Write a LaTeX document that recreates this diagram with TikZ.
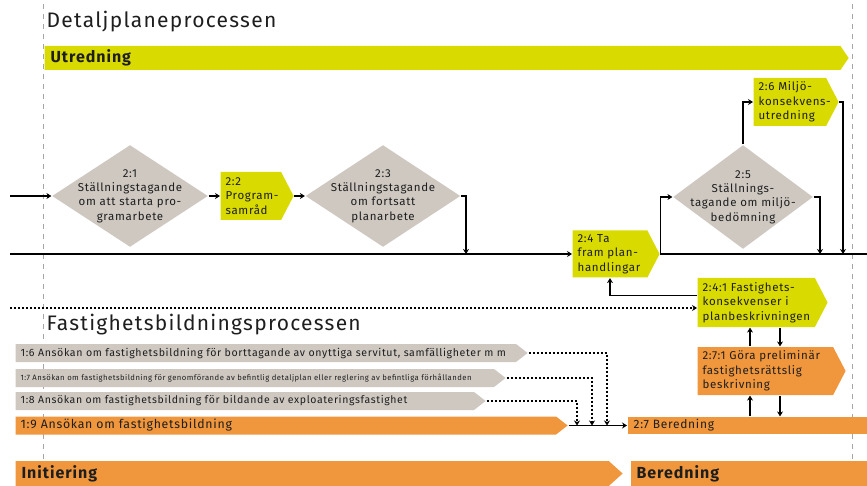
\documentclass[tikz,border=0pt]{standalone}
\usepackage{fontspec}
\setmainfont{Fira Sans}[LetterSpace=6]
\usetikzlibrary{shapes.geometric,shapes.symbols,arrows.meta}

\definecolor{utrgul}{HTML}{D8DA00}
\definecolor{fastorange}{HTML}{F0963C}
\definecolor{ansgra}{HTML}{CEC8C1}
\definecolor{ramgra}{HTML}{A5A5A5}
\definecolor{textsvart}{HTML}{1E1E1E}

\begin{document}
\begin{tikzpicture}[x=1pt, y=-1pt, >={Stealth[length=5pt,width=6pt]},
  line width=1.2pt, text=textsvart,
  decision/.style={diamond, fill=ansgra, inner sep=0pt, draw=none,
    minimum width=#1, minimum height=102pt},
  dtext/.style={label={[align=center, inner sep=0pt,
    font=\fontsize{11.5}{14.3}\selectfont]center:#1}},
  activity/.style={signal, signal to=east, signal pointer angle=125,
    inner sep=0pt, draw=none, minimum height=48pt, anchor=west},
  btext/.style={label={[anchor=west, align=left, inner sep=5pt,
    font=\fontsize{11.5}{14.5}\selectfont]west:#1}},
  bar/.style={signal, signal to=east, signal pointer angle=76,
    inner sep=0pt, draw=none, minimum height=18pt, anchor=west},
  phase/.style={signal, signal to=east, signal pointer angle=90,
    inner sep=0pt, draw=none, minimum height=25pt, anchor=west},
  heading/.style={anchor=west, inner sep=0pt, font=\fontsize{21}{24}\selectfont},
  guide/.style={draw=ramgra, line width=1pt, dash pattern=on 5pt off 5pt},
  dots/.style={dash pattern=on 2pt off 2pt}]

\useasboundingbox (0,0) rectangle (867,486);

% Ramlinjer

\coordinate (guide-l-top) at (43,4);
\coordinate (guide-l-bot) at (43,462);
\coordinate (guide-r-top) at (852,4);
\coordinate (guide-r-bot) at (852,462);
\draw [guide] (guide-l-top) -- (guide-l-bot);
\draw [guide] (guide-r-top) -- (guide-r-bot);

% Detaljplaneprocessen

\node [heading] (title-plan) at (46,22) {Detaljplaneprocessen};

\node [phase, fill=utrgul, minimum height=24pt, minimum width=804pt,
  signal pointer angle=112,
  label={[anchor=west, inner sep=6pt, font=\fontsize{16}{18}\selectfont\bfseries]west:Utredning}]
  (bar-utr) at (44,58) {};

\node [decision=156pt, dtext={2:1\\Ställningstagande\\om att starta pro-\\gramarbete}]
  (dec-1) at (130,196) {};
\node [activity, fill=utrgul, minimum width=73pt, btext={2:2\\Program-\\samråd}]
  (act-2) at (220,196) {};
\node [decision=155pt, dtext={2:3\\Ställningstagande\\om fortsatt\\planarbete}]
  (dec-3) at (383,196) {};
\node [activity, fill=utrgul, minimum width=87pt, minimum height=47pt,
  btext={2:4 Ta\\fram plan-\\handlingar}]
  (act-4) at (572,254) {};
\node [decision=140pt, minimum height=104pt,
  dtext={2:5\\Ställnings-\\tagande om miljö-\\bedömning}]
  (dec-5) at (743,197) {};
\node [activity, fill=utrgul, minimum width=85pt,
  btext={2:6 Miljö-\\konsekvens-\\utredning}]
  (act-6) at (753,102) {};

\coordinate (start-in) at (10,196);
\coordinate (start-main) at (10,254);
\coordinate (end-main) at (867,254);
\coordinate (in-3) at (466,254);
\coordinate (in-5) at (820,254);
\coordinate (in-6) at (843,254);

\draw [->] (start-in) -- (dec-1.west);
\draw [->] (dec-1.east) -- (act-2.west);
\draw [->] (act-2.east) -- (dec-3.west);
\draw [->] (dec-3.east) -| (in-3);
\draw [->] (start-main) -- (act-4.west);
\draw (act-4.east) -- (end-main);
\draw [->] (act-4.east) |- (dec-5.west);
\draw [->] (dec-5.east) -| (in-5);
\draw [->] (dec-5.north) |- (act-6.west);
\draw [->] (act-6.east) -| (in-6);

% Fastighetsbildningsprocessen

\node [heading] (title-fast) at (46,325) {Fastighetsbildningsprocessen};

\node [activity, fill=utrgul, minimum width=130pt, minimum height=49pt,
  btext={2:4:1 Fastighets-\\konsekvenser i\\planbeskrivningen}]
  (act-41) at (697,302.5) {};
\node [activity, fill=fastorange, minimum width=148pt,
  btext={2:7:1 Göra preliminär\\fastighetsrättslig\\beskrivning}]
  (act-71) at (697,371) {};
\node [rectangle, fill=fastorange, inner sep=0pt, minimum width=240pt,
  minimum height=17pt, anchor=west,
  label={[anchor=west, inner sep=6pt, font=\fontsize{12}{14}\selectfont]west:2:7 Beredning}]
  (bar-27) at (627,425.5) {};

\foreach \n/\yc/\w/\fs/\t in {
    6/353/512/10.6/{1:6 Ansökan om fastighetsbildning för borttagande av onyttiga servitut, samfälligheter m m},
    7/378/490/7.7/{1:7 Ansökan om fastighetsbildning för genomförande av befintlig detaljplan eller reglering av befintliga förhållanden},
    8/401/470/10.5/{1:8 Ansökan om fastighetsbildning för bildande av exploateringsfastighet}}
  \node [bar, fill=ansgra, minimum width=\w pt,
    label={[anchor=west, inner sep=5pt, font=\fontsize{\fs}{\fs}\selectfont]west:\t}]
    (bar-1\n) at (15,\yc) {};

\node [bar, fill=fastorange, minimum width=552pt,
  label={[anchor=west, inner sep=5pt, font=\fontsize{12.3}{14}\selectfont]west:1:9 Ansökan om fastighetsbildning}]
  (bar-19) at (15,425.5) {};

\coordinate (start-dot) at (10,308);
\coordinate (lnk-up) at (750,0);
\coordinate (lnk-dn) at (780,0);

\draw [dots, ->] (start-dot) -- (start-dot -| act-41.west);
\draw [->] ([yshift=7pt]act-41.west) -| (act-4.south);

\foreach \lo/\hi in {act-71/act-41, bar-27/act-71} {
  \draw [->] (\lo.north -| lnk-up) -- (\hi.south -| lnk-up);
  \draw [->] (\hi.south -| lnk-dn) -- (\lo.north -| lnk-dn);
}

\draw [->] (bar-19.east) -- (bar-27.west);

\foreach \n/\x in {6/607, 7/592, 8/577} {
  \coordinate (drop-\n) at (\x,0);
  \draw [dots, ->] (bar-1\n.east) -| (bar-19.east -| drop-\n);
}

% Faser

\node [phase, fill=fastorange, minimum width=607pt, signal pointer angle=84,
  label={[anchor=west, inner sep=6pt, font=\fontsize{16}{18}\selectfont\bfseries]west:Initiering}]
  (bar-init) at (15,473.5) {};
\node [rectangle, fill=fastorange, inner sep=0pt, minimum width=237pt,
  minimum height=25pt, anchor=west,
  label={[anchor=west, inner sep=6pt, font=\fontsize{16}{18}\selectfont\bfseries]west:Beredning}]
  (bar-bered) at (630,473.5) {};

\end{tikzpicture}
\end{document}
